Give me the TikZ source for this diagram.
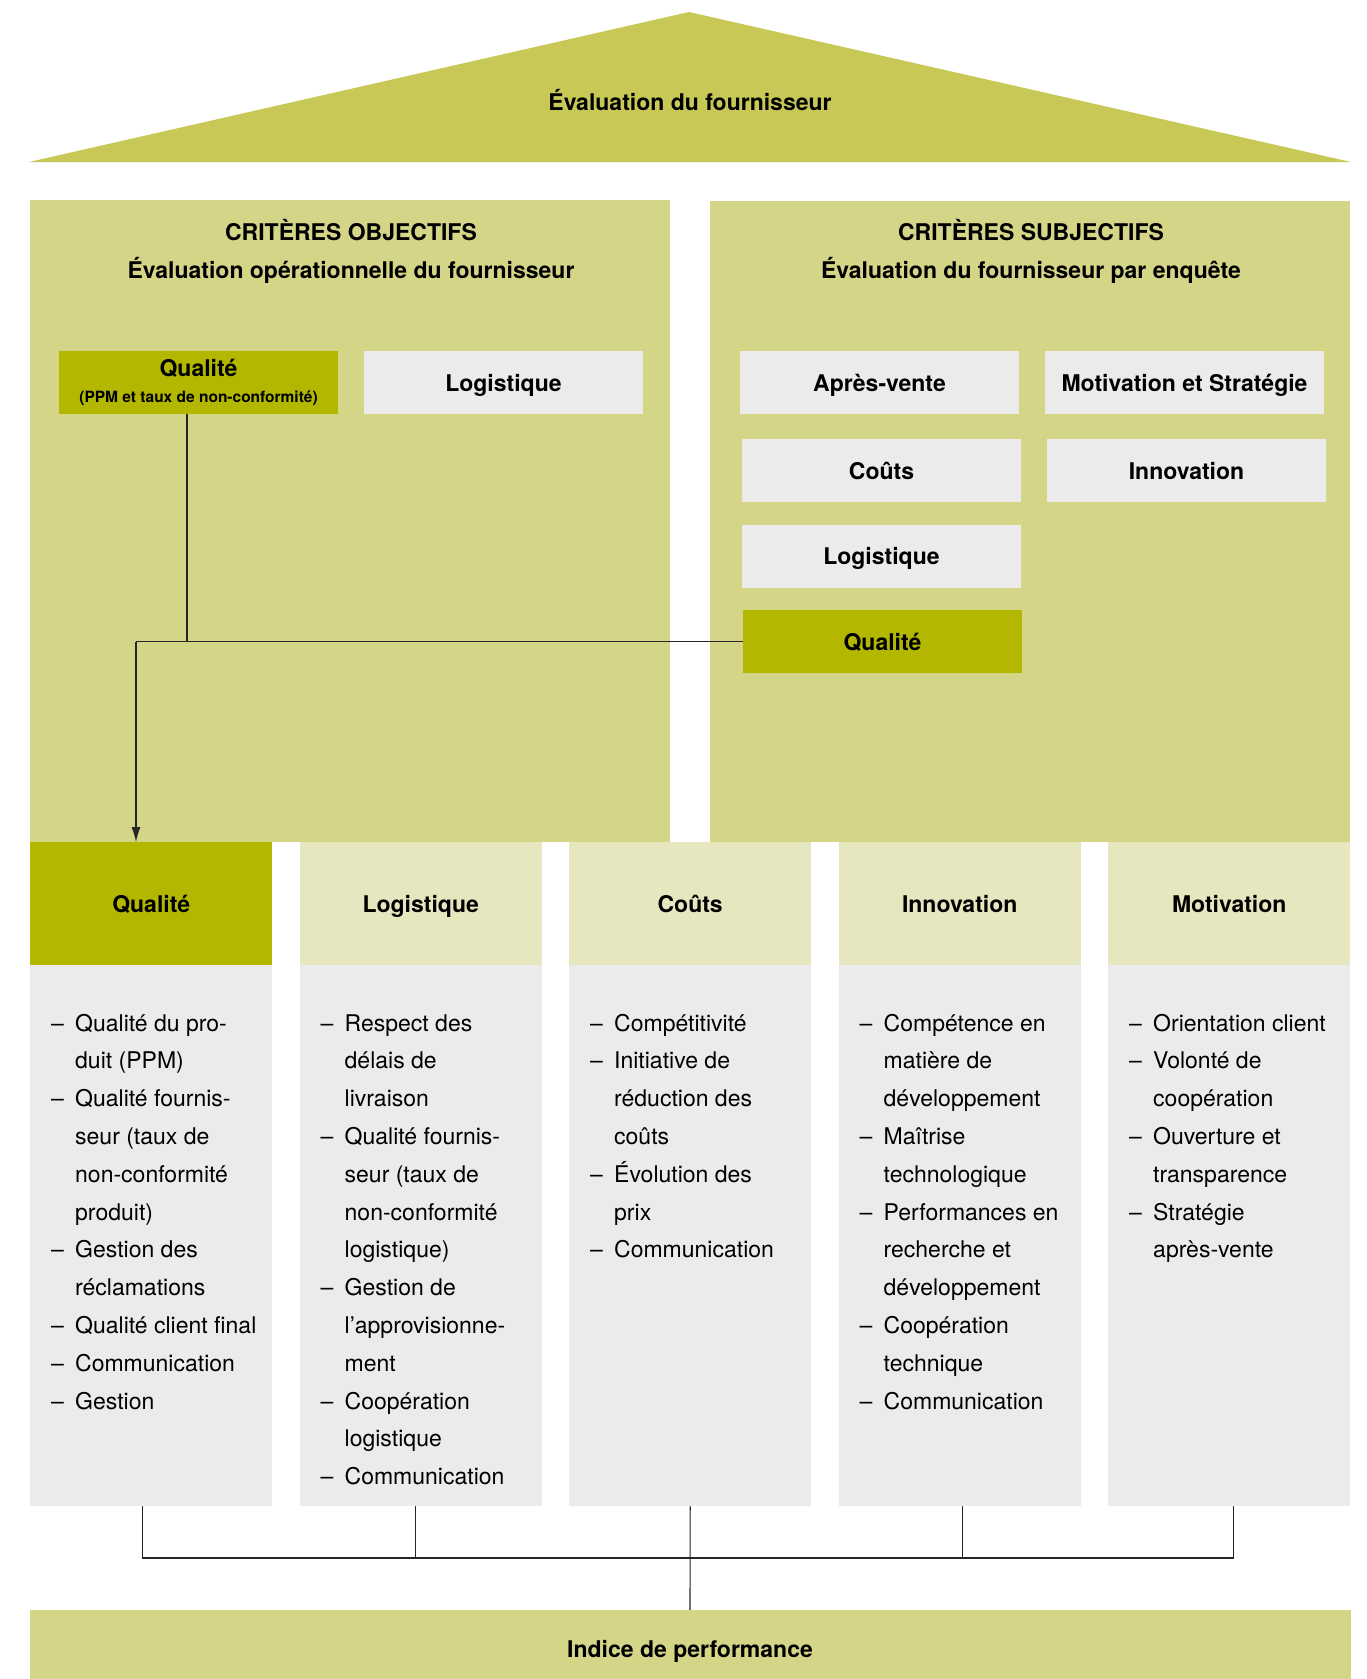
\documentclass[tikz,border=0pt]{standalone}
\usepackage{fontspec}
\setmainfont{TeX Gyre Heros}
\usetikzlibrary{positioning}
\usetikzlibrary{arrows.meta}

\definecolor{roofgreen}{HTML}{C8C857}
\definecolor{panelgreen}{HTML}{D5D588}
\definecolor{darkgreen}{HTML}{B3B700}
\definecolor{palegreen}{HTML}{E6E7BF}
\definecolor{boxgrey}{HTML}{EBEBEB}

\newcommand{\headfont}{\fontsize{23}{27.6}\selectfont\bfseries}
\newcommand{\listfont}{\fontsize{23}{37.8}\selectfont}
\newcommand{\smallfont}{\fontsize{15.5}{18}\selectfont\bfseries}
\newcommand{\dsh}{\makebox[24pt][l]{–}}
\newcommand{\critlist}[1]{\listfont\begin{tabular}{@{}l@{}l@{}}#1\end{tabular}}

\begin{document}
\begin{tikzpicture}[x=1pt, y=-1pt,
	critbox/.style={fill=boxgrey, minimum width=279pt, minimum height=63pt, inner sep=0pt, text height=17pt, text depth=0pt, font=\headfont},
	critdark/.style={critbox, fill=darkgreen},
	colhead/.style={fill=palegreen, anchor=north west, minimum width=242pt, minimum height=123pt, inner sep=0pt, text height=17pt, text depth=0pt, font=\headfont},
	colbody/.style={fill=boxgrey, anchor=north west, minimum width=242pt, minimum height=541pt, inner sep=0pt},
	collist/.style={anchor=north west, inner sep=0pt},
	title/.style={anchor=base, inner sep=0pt, font=\headfont},
	link/.style={draw=black!85, line width=1.1pt}]
	\useasboundingbox (0,0) rectangle (1366,1679);

	% roof
	\fill[roofgreen] (29,162) -- (689,12) -- (1351,162) -- cycle;
	\node[title] (roof) at (690,110) {Évaluation du fournisseur};

	% panels
	\fill[panelgreen] (30,200) rectangle (670,842);
	\fill[panelgreen] (710,201) rectangle (1350,842);
	\node[title] (objtitle) at (351,240) {CRITÈRES OBJECTIFS};
	\node[title] (objsub) at (351,278) {Évaluation opérationnelle du fournisseur};
	\node[title] (subtitle) at (1031,240) {CRITÈRES SUBJECTIFS};
	\node[title] (subsub) at (1031,278) {Évaluation du fournisseur par enquête};

	% objective criteria
	\node[critdark, text height=, text depth=, align=center] (oq) at (198.5,382.5) {Qualité\\[-1pt]{\smallfont (PPM et taux de non-conformité)}};
	\node[critbox] (ol) at (503.5,382.5) {Logistique};

	% subjective criteria
	\node[critbox] (sa) at (879.5,382.5) {Après-vente};
	\node[critbox] (sm) at (1184.5,382.5) {Motivation et Stratégie};
	\node[critbox] (sc) at (881.5,470.5) {Coûts};
	\node[critbox] (si) at (1186.5,470.5) {Innovation};
	\node[critbox] (sl) at (881.5,556) {Logistique};
	\node[critdark] (sq) at (882.5,641.5) {Qualité};

	% columns
	\node[colhead, fill=darkgreen] (h1) at (30,842) {Qualité};
	\node[colhead] (h2) at (299.5,842) {Logistique};
	\node[colhead] (h3) at (569,842) {Coûts};
	\node[colhead] (h4) at (838.5,842) {Innovation};
	\node[colhead] (h5) at (1108,842) {Motivation};

	\node[colbody] (b1) at (30,965) {};
	\node[colbody] (b2) at (299.5,965) {};
	\node[colbody] (b3) at (569,965) {};
	\node[colbody] (b4) at (838.5,965) {};
	\node[colbody] (b5) at (1108,965) {};

	\node[collist] (l1) at (51,1004.5) {\critlist{
		\dsh & Qualité du pro-\\ & duit (PPM)\\
		\dsh & Qualité fournis-\\ & seur (taux de\\ & non-conformité\\ & produit)\\
		\dsh & Gestion des\\ & réclamations\\
		\dsh & Qualité client final\\
		\dsh & Communication\\
		\dsh & Gestion}};
	\node[collist] (l2) at (320.5,1004.5) {\critlist{
		\dsh & Respect des\\ & délais de\\ & livraison\\
		\dsh & Qualité fournis-\\ & seur (taux de\\ & non-conformité\\ & logistique)\\
		\dsh & Gestion de\\ & l’approvisionne-\\ & ment\\
		\dsh & Coopération\\ & logistique\\
		\dsh & Communication}};
	\node[collist] (l3) at (590,1004.5) {\critlist{
		\dsh & Compétitivité\\
		\dsh & Initiative de\\ & réduction des\\ & coûts\\
		\dsh & Évolution des\\ & prix\\
		\dsh & Communication}};
	\node[collist] (l4) at (859.5,1004.5) {\critlist{
		\dsh & Compétence en\\ & matière de\\ & développement\\
		\dsh & Maîtrise\\ & technologique\\
		\dsh & Performances en\\ & recherche et\\ & développement\\
		\dsh & Coopération\\ & technique\\
		\dsh & Communication}};
	\node[collist] (l5) at (1129,1004.5) {\critlist{
		\dsh & Orientation client\\
		\dsh & Volonté de\\ & coopération\\
		\dsh & Ouverture et\\ & transparence\\
		\dsh & Stratégie\\ & après-vente}};

	% performance index
	\fill[panelgreen] (30,1610) rectangle (1351,1679);
	\node[title] (perf) at (690,1657) {Indice de performance};
	\coordinate (perftop) at (690,1610);

	% connectors
	\coordinate (turn) at (136,641.5);
	\draw[link] ([xshift=-11.5pt]oq.south) -- ([xshift=-11.5pt]oq.south |- turn);
	\draw[link] (sq.west) -- (turn);
	\draw[link, -{Latex[length=15pt,width=9pt]}] (turn) -- (turn |- h1.north);

	\coordinate (bus) at (690,1558);
	\draw[link] ([xshift=-9pt]b1.south) |- (bus);
	\draw[link] ([xshift=4pt]b5.south) |- (bus);
	\draw[link] ([xshift=-5pt]b2.south) -- ([xshift=-5pt]b2.south |- bus);
	\draw[link] ([xshift=3pt]b4.south) -- ([xshift=3pt]b4.south |- bus);
	\draw[link] (b3.south) -- (perftop);
\end{tikzpicture}
\end{document}
